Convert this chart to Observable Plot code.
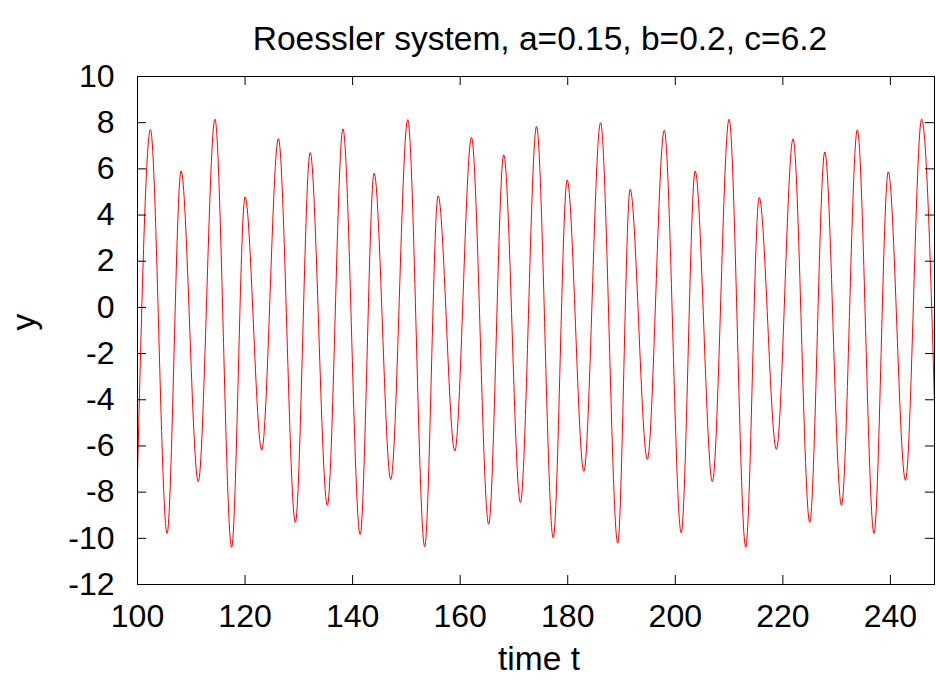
<!DOCTYPE html>
<html><head><meta charset="utf-8">
<script src="https://cdn.jsdelivr.net/npm/d3@7"></script>
<script src="https://cdn.jsdelivr.net/npm/@observablehq/plot@0.6"></script>
<style>body{margin:0;background:#fff}</style>
</head><body><div id="chart"></div>
<script>
// Extrema of y(t)
const times = [100.0, 102.4, 105.5, 108.1, 111.3, 114.4, 117.5, 120.0, 123.1, 126.2, 129.35,
  132.1, 135.3, 138.2, 141.4, 144.0, 147.1, 150.25, 153.4, 155.9, 159.0, 162.1, 165.3,
  168.1, 171.2, 174.2, 177.3, 179.9, 183.0, 186.1, 189.3, 191.6, 194.8, 197.95, 201.1,
  203.7, 206.9, 210.0, 213.1, 215.6, 218.8, 221.9, 225.0, 227.8, 230.9, 233.85, 236.95,
  239.6, 242.8, 245.8, 248.9];
const values = [-7.2, 7.70, -9.79, 5.91, -7.55, 8.15, -10.39, 4.79, -6.18, 7.31, -9.31,
  6.71, -8.57, 7.73, -9.84, 5.82, -7.45, 8.13, -10.36, 4.84, -6.22, 7.36, -9.39,
  6.61, -8.45, 7.84, -9.98, 5.52, -7.10, 8.00, -10.21, 5.12, -6.58, 7.67, -9.76,
  5.91, -7.55, 8.15, -10.39, 4.76, -6.15, 7.30, -9.31, 6.73, -8.57, 7.69, -9.79,
  5.87, -7.49, 8.15, -10.39];
const xTicks = [100, 120, 140, 160, 180, 200, 220, 240];
const yTicks = [-12, -10, -8, -6, -4, -2, 0, 2, 4, 6, 8, 10];
const xDomain = [100, 248.2];
const yDomain = [-12, 10];
const title = "Roessler system, a=0.15, b=0.2, c=6.2";
const xLabel = "time t";
const yLabel = "y";

const data = times.map((t, i) => ({t, y: values[i]}));
const W = 936, H = 689, mL = 137, mR = 2, mT = 76, mB = 105;
const fw = W - mL - mR, fh = H - mT - mB;
const tick = 9;
const fs = 32;
const fsT = 33.5;
const font = "'Liberation Sans', Arial, Helvetica, sans-serif";

const plot = Plot.plot({
  width: W, height: H,
  marginLeft: mL, marginRight: mR, marginTop: mT, marginBottom: mB,
  style: {fontFamily: font, fontSize: fs + "px", color: "black", background: "white", overflow: "visible"},
  x: {domain: xDomain, ticks: xTicks, tickFormat: d => String(d), tickSize: 0, tickPadding: 20, label: null},
  y: {domain: yDomain, ticks: yTicks, tickFormat: d => String(d), tickSize: 0, tickPadding: 23, label: null},
  marks: [
    Plot.lineY(data, {x: "t", y: "y", stroke: "red", strokeWidth: 1, curve: "monotone-x", clip: true}),
    Plot.tickX(xTicks, {x: d => d, stroke: "black", insetTop: fh - tick}),
    Plot.tickX(xTicks, {x: d => d, stroke: "black", insetBottom: fh - tick}),
    Plot.tickY(yTicks, {y: d => d, stroke: "black", insetRight: fw - tick}),
    Plot.tickY(yTicks, {y: d => d, stroke: "black", insetLeft: fw - tick}),
    Plot.frame({stroke: "black"}),
    Plot.text([title], {frameAnchor: "top", dx: 4, dy: -50, fontSize: fsT, text: d => d}),
    Plot.text([xLabel], {frameAnchor: "bottom", dx: 3, dy: 85, fontSize: fsT, text: d => d}),
    Plot.text([yLabel], {frameAnchor: "left", dx: -113, rotate: -90, fontSize: fsT, text: d => d})
  ]
});
document.getElementById("chart").appendChild(plot);
</script>
</body></html>
